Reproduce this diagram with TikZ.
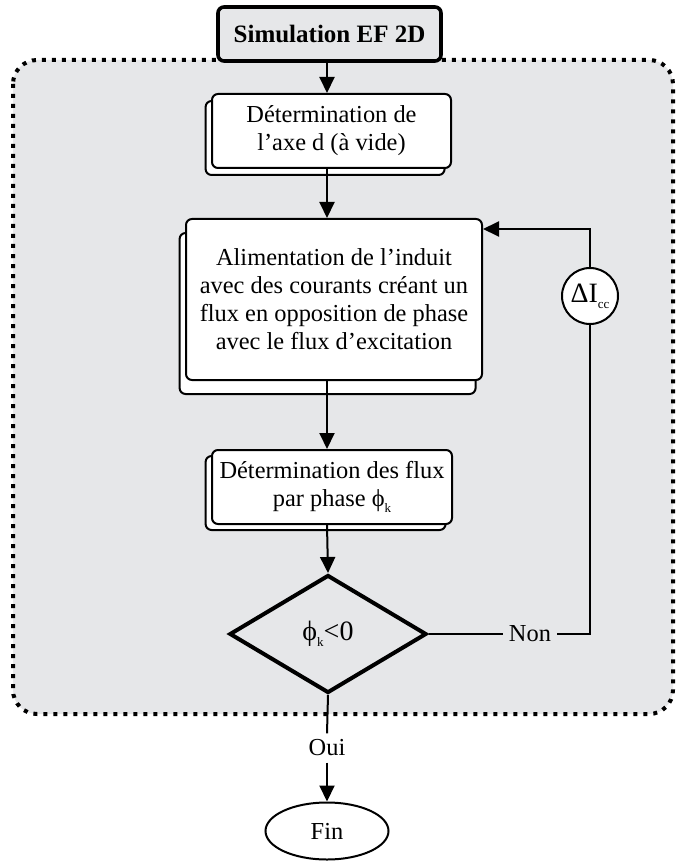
\documentclass[tikz,border=0pt]{standalone}
\usepackage{fontspec}
\setmainfont{Liberation Serif}
\usetikzlibrary{arrows.meta,shapes.geometric,shadows}

\definecolor{fondgris}{HTML}{E6E7E9}

\newcommand{\indice}[1]{\raisebox{-0.45ex}{\fontsize{6.5}{7}\selectfont #1}}

\tikzset{
  etape/.style={draw, line width=1pt, fill=white, rounded corners=3pt,
    align=center, inner sep=1pt, font=\fontsize{12.2}{14}\selectfont},
  copie/.style={copy shadow={shadow xshift=-3.2pt, shadow yshift=#1,
    draw, fill=white, line width=1pt}},
  titre/.style={draw, line width=1.8pt, fill=fondgris, rounded corners=3pt,
    minimum width=111.5pt, minimum height=27pt,
    font=\fontsize{12.5}{15}\selectfont\bfseries},
  test/.style={diamond, draw, line width=2pt, aspect=1.67, inner sep=0pt,
    minimum width=98.5pt, minimum height=59pt, font=\fontsize{14}{16}\selectfont},
  rond/.style={circle, draw, line width=1pt, fill=white, inner sep=0pt,
    minimum size=28pt, font=\fontsize{14}{16}\selectfont},
  terme/.style={ellipse, draw, line width=1pt, fill=white,
    minimum width=61.5pt, minimum height=28.5pt, font=\fontsize{12.2}{14}\selectfont},
  etiq/.style={inner sep=3pt, font=\fontsize{12.2}{14}\selectfont},
  lien/.style={line width=1pt}
}

\begin{document}
\begin{tikzpicture}[x=0.5pt, y=-0.5pt, >={Triangle[length=8pt,width=7.5pt]}]

  \useasboundingbox (0,0) rectangle (675,861);

  % Zone grise
  \draw[fill=fondgris, line width=2pt, dash pattern=on 2pt off 3pt,
    rounded corners=12pt] (13,60) rectangle (673,714);

  % Blocs
  \node[titre] (sim) at (329.5,34) {Simulation EF 2D};
  \node[etape, copie=-3.5pt, minimum width=119.5pt, minimum height=37pt]
    (axe) at (331.5,131) {Détermination de\\l’axe d (à vide)};
  \node[etape, copie=-7pt, minimum width=148pt, minimum height=80.5pt]
    (alim) at (334,299.5) {Alimentation de l’induit\\avec des courants créant un\\flux en opposition de phase\\avec le flux d’excitation};
  \node[etape, copie=-3pt, minimum width=120pt, minimum height=37pt]
    (flux) at (332,487) {Détermination des flux\\par phase ϕ\indice{k}};
  \node[test] (cond) at (328,634) {ϕ\indice{k}<0};
  \node[rond] (delta) at (590,296) {ΔI\indice{cc}};
  \node[terme] (fin) at (327,831) {Fin};

  % Etiquettes
  \node[etiq] (non) at (530,634) {Non};
  \node[etiq] (oui) at (327,748) {Oui};

  % Liens
  \draw[lien, ->] (sim.south -| 327,0) -- (axe.north -| 327,0);
  \draw[lien, ->] (axe.south -| 327,0) -- (alim.north -| 327,0);
  \draw[lien, ->] (alim.south -| 327,0) -- (flux.north -| 327,0);
  \draw[lien, ->] (flux.south -| 327,0) -- (cond.north);
  \draw[lien] (cond.east) -- (non.west);
  \draw[lien] (non.east) -- (non.east -| delta.south) -- (delta.south);
  \coordinate (retour) at (590,229);
  \draw[lien, ->] (delta.north) -- (retour) -- (retour -| alim.east);
  \draw[lien] (cond.south) -- (oui.north);
  \draw[lien, ->] (oui.south) -- (fin.north);

\end{tikzpicture}
\end{document}
